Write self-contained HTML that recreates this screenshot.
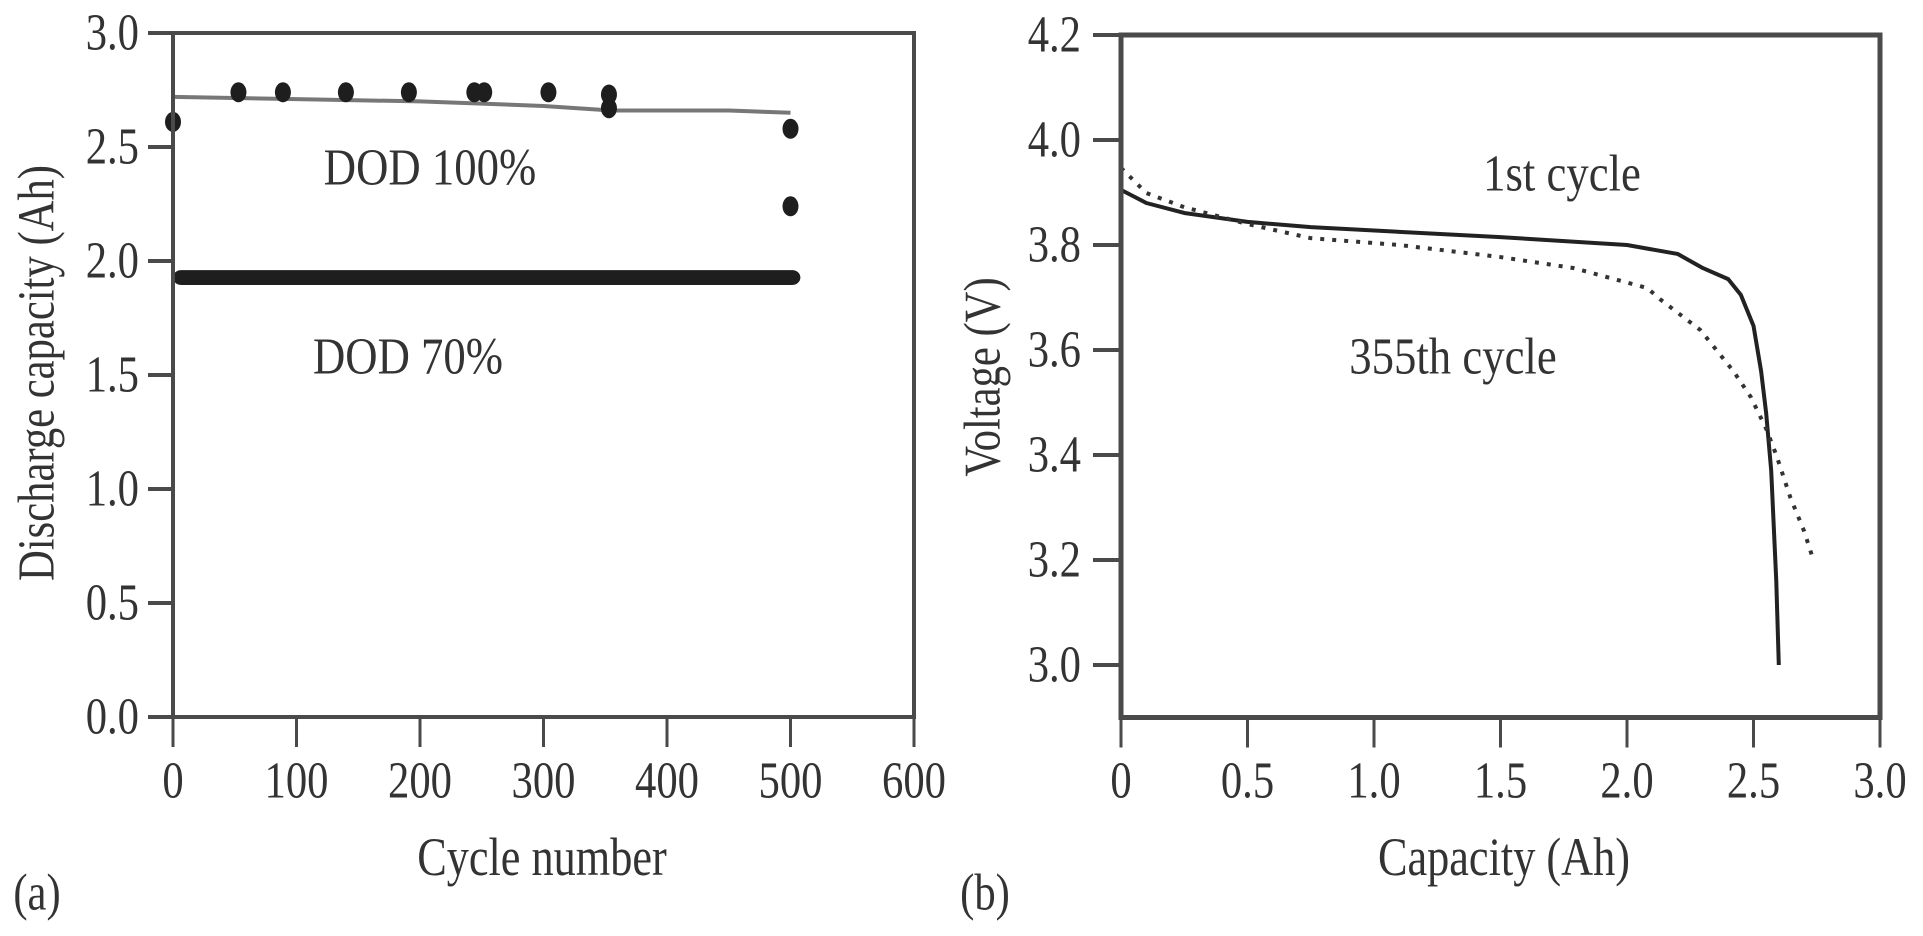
<!DOCTYPE html>
<html><head><meta charset="utf-8"><style>
html,body{margin:0;padding:0;background:#fff;}
svg{display:block;}
text{font-family:"Liberation Serif",serif;fill:#333;}
</style></head><body>
<svg id="chart" width="1923" height="936" viewBox="0 0 1923 936">
<g id="pa"></g>
<g id="pb"></g>
</svg>
<script>
// Panel (a) data
const aXTicks = [0,100,200,300,400,500,600];
const aYTicks = [0.0,0.5,1.0,1.5,2.0,2.5,3.0];
const dod100Cycles = [0,53,89,140,191,244,252,304,353,353,500,500];
const dod100Caps = [2.61,2.74,2.74,2.74,2.74,2.74,2.74,2.74,2.73,2.67,2.58,2.24];
const fitCycles = [0,100,200,300,355,450,500];
const fitCaps = [2.72,2.71,2.70,2.68,2.66,2.66,2.65];
const dod70Range = [0,508];
const dod70Cap = [1.895,1.96];
// Panel (b) data
const bXTicks = [0,0.5,1.0,1.5,2.0,2.5,3.0];
const bYTicks = [3.0,3.2,3.4,3.6,3.8,4.0,4.2];
const c1Cap = [0,0.1,0.25,0.5,0.75,1.1,1.5,2.0,2.2,2.3,2.4,2.45,2.5,2.53,2.55,2.57,2.59,2.6];
const c1V = [3.905,3.88,3.861,3.844,3.834,3.825,3.815,3.80,3.783,3.756,3.735,3.705,3.646,3.56,3.48,3.37,3.16,3.0];
const c355Cap = [0,0.1,0.25,0.5,0.75,1.1,1.5,1.79,2.08,2.13,2.29,2.42,2.49,2.55,2.59,2.645,2.70,2.73];
const c355V = [3.947,3.899,3.872,3.84,3.813,3.80,3.777,3.756,3.718,3.697,3.638,3.56,3.51,3.45,3.40,3.32,3.255,3.21];

const NS='http://www.w3.org/2000/svg';
function mk(parent,tag,attrs){const e=document.createElementNS(NS,tag);for(const k in attrs)e.setAttribute(k,attrs[k]);parent.appendChild(e);return e;}
function txt(parent,s,x,y,size,anchor,sx){const t=mk(parent,'text',{x:x,y:y,'font-size':size,'text-anchor':anchor||'middle','dominant-baseline':'central'});t.textContent=s;t._sx=sx||0.82;return t;}

// scales
const ax=c=>173+c*1.235, ay=v=>717-v*228;
const bx=c=>1121+c*253, by=v=>665-(v-3.0)*525;

const pa=document.getElementById('pa');
// DOD70 band
const band=mk(pa,'rect',{x:ax(dod70Range[0]),y:ay(dod70Cap[1]),width:ax(dod70Range[1])-ax(dod70Range[0]),height:ay(dod70Cap[0])-ay(dod70Cap[1]),rx:8,fill:'#1e1e1e'});


// fit line
const fl=mk(pa,'polyline',{points:fitCycles.map((c,i)=>ax(c)+','+ay(fitCaps[i])).join(' '),fill:'none',stroke:'#777',"stroke-width":4});


dod100Cycles.forEach((c,i)=>{
  const p=mk(pa,'ellipse',{cx:ax(c),cy:ay(dod100Caps[i]),rx:8,ry:10,fill:'#1e1e1e'});
  
  
});
// frame
mk(pa,'path',{d:`M${ax(0)},${ay(0)} L${ax(0)},${ay(3)} L${ax(600)},${ay(3)} L${ax(600)},${ay(0)} Z`,fill:'none',stroke:'#4a4a4a','stroke-width':4});
aYTicks.forEach(v=>{
  mk(pa,'line',{x1:ax(0)-25,x2:ax(0),y1:ay(v),y2:ay(v),stroke:'#4a4a4a','stroke-width':4});
  const t=txt(pa,v.toFixed(1),139,ay(v),52,'end');
  
  
});
aXTicks.forEach(c=>{
  mk(pa,'line',{x1:ax(c),x2:ax(c),y1:ay(0),y2:ay(0)+30,stroke:'#4a4a4a','stroke-width':3});
  const t=txt(pa,String(c),ax(c),781,52);
  
  
});
let t;
t=txt(pa,'Cycle number',542,857,54);
t=txt(pa,'(a)',37,893,52);
t=txt(pa,'DOD 100%',430,168,52,'middle',0.86);
t=txt(pa,'DOD 70%',408,357,52,'middle',0.86);
t=txt(pa,'Discharge capacity (Ah)',0,0,52);t.setAttribute('transform','translate(37,373) rotate(-90)');

const pb=document.getElementById('pb');
const l1=mk(pb,'polyline',{points:c1Cap.map((c,i)=>bx(c)+','+by(c1V[i])).join(' '),fill:'none',stroke:'#222','stroke-width':4,'stroke-linejoin':'round'});


const l2=mk(pb,'polyline',{points:c355Cap.map((c,i)=>bx(c)+','+by(c355V[i])).join(' '),fill:'none',stroke:'#333','stroke-width':4,'stroke-dasharray':'4 8'});


mk(pb,'path',{d:`M${bx(0)},${by(2.9)} L${bx(0)},${by(4.2)} L${bx(3)},${by(4.2)} L${bx(3)},${by(2.9)} Z`,fill:'none',stroke:'#4a4a4a','stroke-width':5});
bYTicks.forEach(v=>{
  mk(pb,'line',{x1:bx(0)-28,x2:bx(0),y1:by(v),y2:by(v),stroke:'#4a4a4a','stroke-width':4});
  const t=txt(pb,v.toFixed(1),1081,by(v),52,'end');
  
  
});
bXTicks.forEach(c=>{
  mk(pb,'line',{x1:bx(c),x2:bx(c),y1:by(2.9),y2:by(2.9)+30,stroke:'#4a4a4a','stroke-width':3});
  const t=txt(pb,c===0?'0':c.toFixed(1),bx(c),781,52);
  
  
});
t=txt(pb,'Capacity (Ah)',1504,857,54);
t=txt(pb,'(b)',985,893,52);
t=txt(pb,'1st cycle',1562,174,52,'middle',0.86);
t=txt(pb,'355th cycle',1453,357,52,'middle',0.86);
t=txt(pb,'Voltage (V)',0,0,52);t.setAttribute('transform','translate(983,377) rotate(-90)');

// condense text to mimic narrow serif
document.querySelectorAll('text').forEach(e=>{
  const L=e.getComputedTextLength();
  if(L>0){e.setAttribute('textLength',(L*(e._sx||0.82)).toFixed(1));e.setAttribute('lengthAdjust','spacingAndGlyphs');}
});
</script>
</body></html>
